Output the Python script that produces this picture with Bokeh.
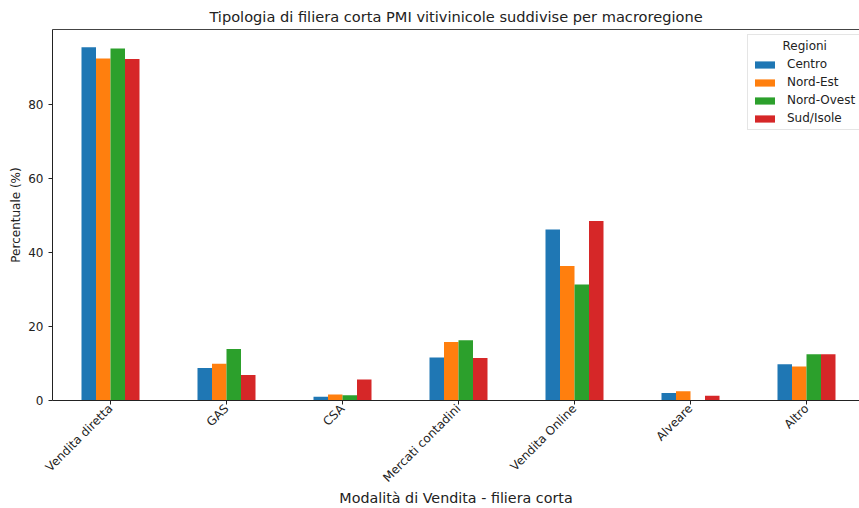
import math
from bokeh.plotting import figure
from bokeh.models import (ColumnDataSource, FixedTicker, LinearAxis, Range1d, Legend)
from bokeh.transform import dodge
from bokeh.embed import file_html
from bokeh.resources import INLINE

categories = ["Vendita diretta", "GAS", "CSA", "Mercati contadini", "Vendita Online", "Alveare", "Altro"]
regions = ["Centro", "Nord-Est", "Nord-Ovest", "Sud/Isole"]
centro = [95.4, 8.8, 1.0, 11.6, 46.2, 2.0, 9.8]
nord_est = [92.4, 9.9, 1.6, 15.8, 36.3, 2.5, 9.2]
nord_ovest = [95.1, 13.9, 1.4, 16.3, 31.3, 0.0, 12.5]
sud_isole = [92.2, 6.9, 5.7, 11.5, 48.5, 1.3, 12.5]
y_ticks = [0, 20, 40, 60, 80]

colors = ["#1f77b4", "#ff7f0e", "#2ca02c", "#d62728"]

src = ColumnDataSource(dict(idx=list(range(len(categories))), centro=centro,
                            nord_est=nord_est, nord_ovest=nord_ovest, sud_isole=sud_isole))
cols = ["centro", "nord_est", "nord_ovest", "sud_isole"]

FONT = "DejaVu Sans"
W, H = 859, 508
LEFT = 52
p = figure(width=W, height=H, output_backend="svg", toolbar_location=None,
           x_range=Range1d(-0.5, -0.5 + (W - LEFT) / 116.0), y_range=Range1d(0, 100.2),
           title="Tipologia di filiera corta PMI vitivinicole suddivise per macroregione",
           min_border_left=LEFT, min_border_right=0, min_border_bottom=100, min_border_top=20)
p.title.align = "center"
p.title.text_font = FONT
p.title.text_font_size = "14.6px"
p.title.text_font_style = "normal"
p.title.text_color = "#222222"
p.outline_line_color = None
p.xgrid.visible = False
p.ygrid.visible = False

w = 0.125
offsets = [-0.1875, -0.0625, 0.0625, 0.1875]
items = []
for col, off, c, name in zip(cols, offsets, colors, regions):
    r = p.vbar(x=dodge("idx", off, range=p.x_range), top=col, width=w, source=src,
               fill_color=c, line_color=None)
    items.append((name, [r]))

legend = Legend(items=items, location=(695, 270))
legend.title = "\u00a0\u00a0\u00a0\u00a0\u00a0\u00a0\u00a0\u00a0Regioni"
legend.title_text_font = FONT
legend.title_text_font_size = "12px"
legend.title_text_font_style = "normal"
legend.title_text_color = "#222222"
legend.title_standoff = 4
legend.label_text_font = FONT
legend.label_text_font_size = "12px"
legend.label_text_color = "#222222"
legend.glyph_width = 25
legend.glyph_height = 9
legend.label_height = 14
legend.label_standoff = 10
legend.spacing = 4
legend.padding = 4
legend.margin = 0
legend.border_line_color = "#cccccc"
legend.background_fill_alpha = 0.9
p.add_layout(legend)

xa = p.xaxis[0]
xa.ticker = FixedTicker(ticks=list(range(len(categories))))
xa.major_label_overrides = {i: c for i, c in enumerate(categories)}
xa.major_label_orientation = math.pi / 4
xa.axis_label = "Modalità di Vendita - filiera corta"
xa.major_label_standoff = 2
xa.axis_label_standoff = -3

ya = p.yaxis[0]
ya.ticker = FixedTicker(ticks=y_ticks)
ya.axis_label = "Percentuale (%)"
ya.axis_label_standoff = 2

for ax in (xa, ya):
    ax.major_label_text_font = FONT
    ax.major_label_text_font_size = "12px"
    ax.major_label_text_color = "#222222"
    ax.axis_label_text_font = FONT
    ax.axis_label_text_font_style = "normal"
    ax.axis_label_text_color = "#222222"
    ax.minor_tick_line_color = None
    ax.major_tick_in = 0
    ax.major_tick_out = 4
    ax.major_tick_line_color = "#222222"
    ax.axis_line_color = "#222222"
xa.axis_label_text_font_size = "14.3px"
ya.axis_label_text_font_size = "12px"

top_ax = LinearAxis(major_tick_line_color=None, minor_tick_line_color=None,
                    major_label_text_font_size="0px", axis_line_color="#444444")
top_ax.ticker = FixedTicker(ticks=[])
p.add_layout(top_ax, "above")

open("out.html", "w").write(file_html(p, INLINE))
